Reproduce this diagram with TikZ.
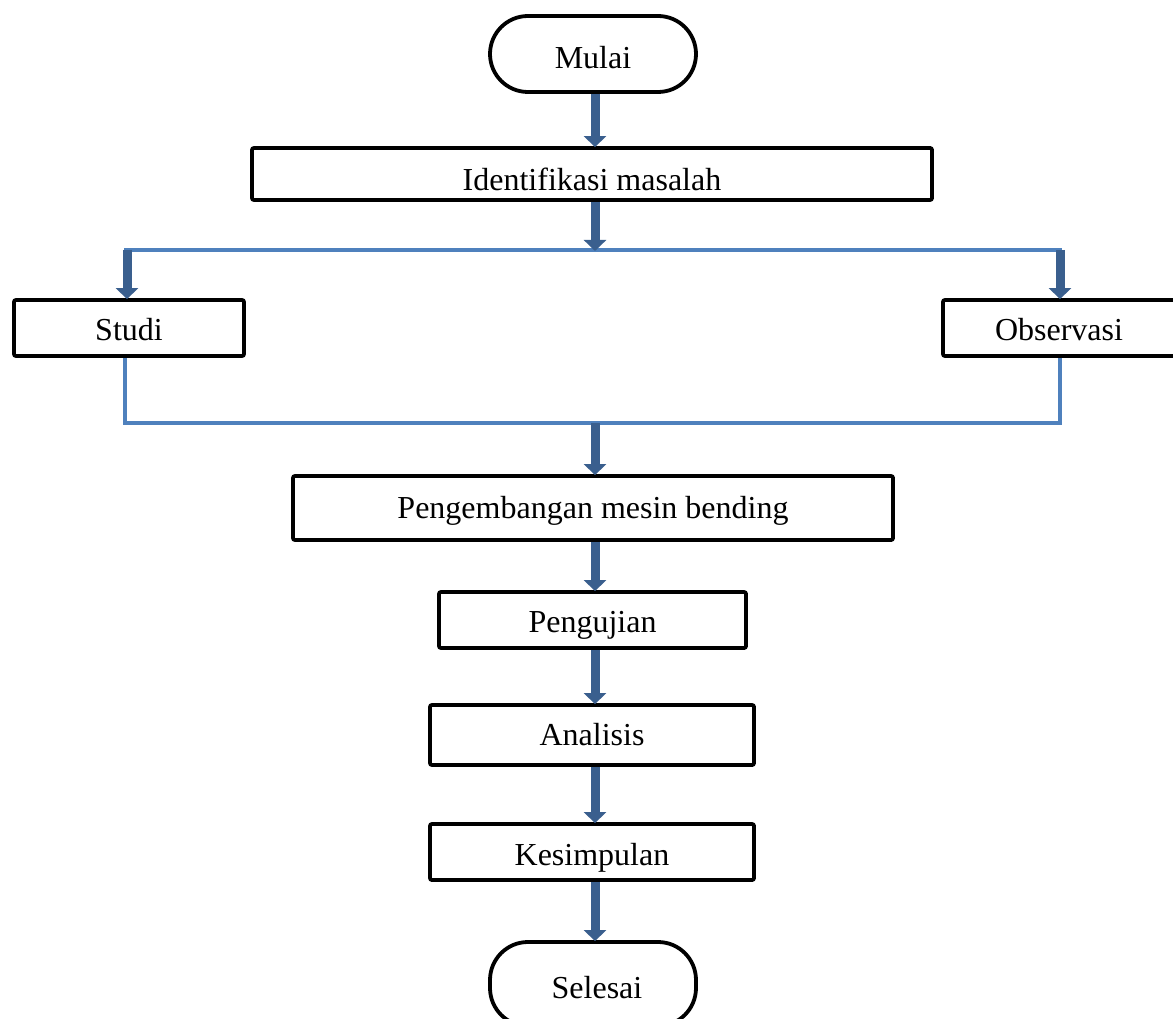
\documentclass[tikz,border=0pt]{standalone}
\usepackage{fontspec}
\setmainfont{Liberation Serif}
\usetikzlibrary{arrows.meta}
\definecolor{darkarrow}{HTML}{3A5F8E}
\definecolor{lightline}{HTML}{4F81BD}
\begin{document}
\begin{tikzpicture}[x=1pt,y=-1pt,
  box/.style={draw=black,line width=3.8pt,rounded corners=2pt,fill=white,inner sep=0pt,
    font=\fontsize{32}{38}\selectfont,text depth=0pt,text height=25pt},
  low/.style={text height=#1},
  term/.style={box,rounded corners=38pt},
  flow/.style={draw=darkarrow,line width=9pt,-{Triangle[width=22pt,length=11pt]},shorten >=-1pt},
  link/.style={draw=lightline,line width=4.5pt}]
\useasboundingbox (0,0) rectangle (1173,1019);
\clip (0,0) rectangle (1173,1019);
\node[term,low=29pt,minimum width=206pt,minimum height=76pt] (mulai) at (593,54) {Mulai};
\node[box,low=33pt,minimum width=680pt,minimum height=52pt] (ident) at (592,174) {Identifikasi masalah};
\node[box,low=25pt,minimum width=230pt,minimum height=56pt] (studi) at (129,328) {Studi};
\node[box,low=25pt,minimum width=236pt,minimum height=56pt] (obs) at (1061,328) {\hspace*{-4pt}Observasi};
\node[box,low=21pt,minimum width=600pt,minimum height=64pt] (peng) at (593,508) {Pengembangan mesin bending};
\node[box,low=25pt,minimum width=307pt,minimum height=56pt] (uji) at (592.5,620) {Pengujian};
\node[box,low=21pt,minimum width=324pt,minimum height=60pt] (anal) at (592,735) {Analisis};
\node[box,low=27pt,minimum width=324pt,minimum height=56pt] (kes) at (592,852) {Kesimpulan};
\node[term,low=29pt,minimum width=206pt,minimum height=84pt] (sel) at (593,984) {\hspace*{8pt}Selesai};
\coordinate (jt) at (595,250);
\coordinate (jl) at (127,250);
\coordinate (jr) at (1060,250);
\coordinate (jb) at (595,423);
\coordinate (bl) at (125,423);
\coordinate (br) at (1060,423);
\coordinate (sb) at (125,358);
\coordinate (ob) at (1060,358);
\draw[link] ([xshift=-3pt]jl) -- ([xshift=2pt]jr);
\draw[link] (sb) -- (bl) -- (br) -- (ob);
\draw[flow] (mulai.south -| jt) -- (ident.north -| jt);
\draw[flow] (ident.south -| jt) -- (jt);
\draw[flow] (jl) -- (studi.north -| jl);
\draw[flow] (jr) -- (obs.north -| jr);
\draw[flow] (jb) -- (peng.north -| jb);
\draw[flow] (peng.south -| jb) -- (uji.north -| jb);
\draw[flow] (uji.south -| jb) -- (anal.north -| jb);
\draw[flow] (anal.south -| jb) -- (kes.north -| jb);
\draw[flow] (kes.south -| jb) -- (sel.north -| jb);
\end{tikzpicture}
\end{document}
